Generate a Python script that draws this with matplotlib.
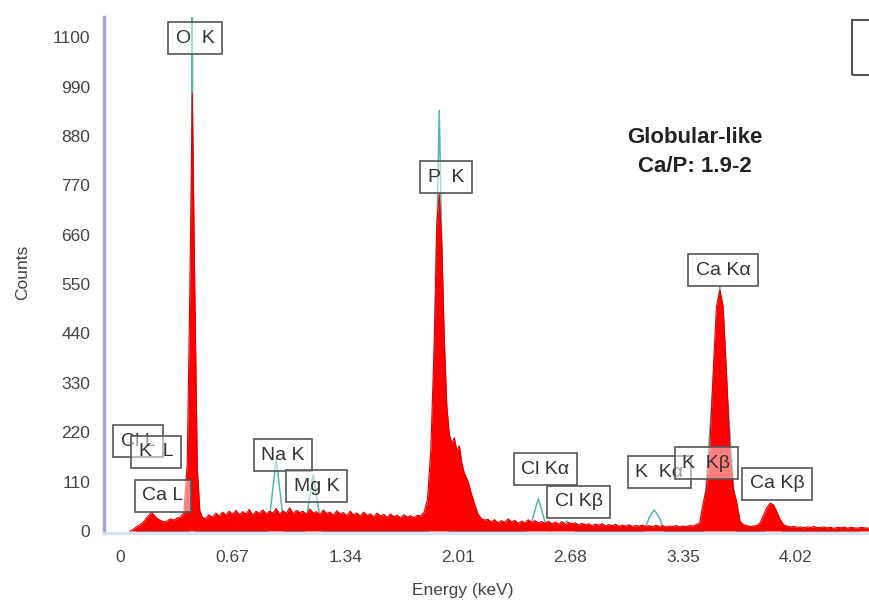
import matplotlib
matplotlib.use("Agg")
import matplotlib.pyplot as plt
from matplotlib.patches import Rectangle

plt.rcParams['font.family'] = ['Liberation Sans', 'DejaVu Sans']

# EDS spectrum (energy in keV, counts)
spec_kev = [0.06, 0.08, 0.10, 0.12, 0.14, 0.16, 0.18, 0.19, 0.20, 0.22, 0.24, 0.26, 0.28, 0.30, 0.32, 0.34, 0.36, 0.38,
            0.40, 0.415, 0.43, 0.445, 0.46, 0.475, 0.49,
            0.51, 0.53, 0.55, 0.57, 0.59, 0.61, 0.63, 0.65, 0.67, 0.69, 0.71, 0.73, 0.75, 0.77, 0.79, 0.81, 0.83,
            0.85, 0.87, 0.89, 0.91, 0.93, 0.95, 0.97, 0.99, 1.01, 1.03, 1.05, 1.07, 1.09, 1.11, 1.13, 1.15, 1.17,
            1.19, 1.21, 1.23, 1.25, 1.27, 1.29, 1.31, 1.33, 1.35, 1.37, 1.39, 1.41, 1.43, 1.45, 1.47, 1.49, 1.51,
            1.53, 1.55, 1.57, 1.59, 1.61, 1.63, 1.65, 1.67, 1.69, 1.71, 1.73, 1.75, 1.77, 1.79, 1.81,
            1.83, 1.85, 1.87, 1.885, 1.90, 1.915, 1.93, 1.945, 1.96, 1.975, 1.99, 2.005, 2.02, 2.035, 2.05, 2.07,
            2.09, 2.11, 2.13, 2.15, 2.17,
            2.19, 2.21, 2.23, 2.25, 2.27, 2.29, 2.31, 2.33, 2.35, 2.37, 2.39, 2.41, 2.43, 2.45, 2.47, 2.49, 2.51,
            2.53, 2.55, 2.57, 2.59, 2.61, 2.63, 2.65, 2.67, 2.69, 2.71, 2.73, 2.75, 2.77, 2.79, 2.81, 2.83, 2.85,
            2.87, 2.89, 2.91, 2.93, 2.95, 2.97, 2.99, 3.01, 3.03, 3.05, 3.07, 3.09, 3.11, 3.13, 3.15, 3.17, 3.19,
            3.21, 3.23, 3.25, 3.27, 3.29, 3.31, 3.33, 3.35, 3.37, 3.39, 3.41, 3.43, 3.45,
            3.47, 3.49, 3.51, 3.53, 3.55, 3.57, 3.59, 3.61, 3.63, 3.65, 3.67, 3.69,
            3.71, 3.73, 3.75, 3.77, 3.79, 3.81, 3.83, 3.85, 3.87, 3.89, 3.91, 3.93, 3.95, 3.97,
            3.99, 4.01, 4.03, 4.05, 4.07, 4.09, 4.11, 4.13, 4.15, 4.17, 4.19, 4.21, 4.23, 4.25, 4.27, 4.29, 4.31,
            4.33, 4.35, 4.37, 4.39, 4.41, 4.43, 4.46]
spec_counts = [0, 4, 10, 14, 20, 30, 38, 42, 36, 28, 24, 20, 22, 27, 24, 29, 31, 40,
               150, 520, 975, 540, 140, 45, 30,
               28, 36, 30, 40, 33, 42, 35, 44, 37, 46, 36, 43, 38, 48, 35, 44, 39,
               47, 38, 44, 40, 50, 37, 45, 39, 52, 38, 46, 41, 44, 37, 49, 40, 43,
               36, 47, 39, 42, 35, 45, 38, 41, 34, 44, 36, 40, 33, 42, 35, 38, 31,
               40, 33, 37, 30, 38, 32, 35, 29, 36, 31, 34, 30, 35, 33, 42,
               70, 180, 420, 680, 753, 640, 430, 280, 215, 195, 208, 178, 190, 150, 128, 112,
               85, 60, 38, 28, 24,
               26, 20, 25, 18, 23, 19, 27, 20, 24, 17, 22, 18, 25, 19, 23, 18, 21,
               17, 22, 16, 20, 15, 21, 14, 19, 16, 18, 13, 17, 14, 16, 12, 15, 13,
               16, 11, 14, 12, 15, 10, 13, 11, 14, 10, 12, 11, 13, 10, 12, 9, 13,
               10, 12, 9, 11, 10, 12, 9, 11, 10, 12, 11, 14, 18,
               60, 95, 180, 350, 500, 537, 500, 350, 180, 95, 65, 22,
               14, 12, 10, 11, 12, 18, 35, 52, 62, 58, 42, 25, 14, 11,
               9, 10, 8, 9, 7, 9, 8, 10, 7, 8, 9, 7, 8, 6, 8, 7, 9,
               6, 8, 7, 6, 8, 7, 6]

# fitted element line profiles (the thin cyan curve)
fit_kev = [0.10, 0.41, 0.425, 0.43, 0.435, 0.45, 0.88, 0.89, 0.93, 0.97, 0.98, 1.10, 1.11, 1.15, 1.19, 1.20,
           1.84, 1.86, 1.90, 1.94, 1.96, 2.42, 2.45, 2.49, 2.53, 2.56, 2.61, 2.66, 2.71,
           3.12, 3.15, 3.18, 3.21, 3.24, 3.47, 3.57, 3.67, 3.84, 3.89, 3.94, 4.40]
fit_counts = [0, 0, 500, 1200, 500, 0, 0, 30, 160, 30, 0, 0, 30, 125, 30, 0,
              0, 150, 937, 150, 0, 0, 20, 72, 20, 0, 10, 22, 0,
              0, 30, 47, 30, 0, 0, 545, 0, 0, 55, 0, 0]

# peak labels: text, energy, counts (box centre)
label_text = ["Cl L", "K  L", "Ca L", "O  K", "Na K", "Mg K", "P  K", "Cl Kα", "Cl Kβ", "K  Kα", "K  Kβ",
              "Ca Kα", "Ca Kβ"]
label_kev = [0.107, 0.214, 0.256, 0.446, 0.97, 1.17, 1.94, 2.53, 2.73, 3.21, 3.49, 3.59, 3.91]
label_counts = [200, 176, 78, 1098, 169, 100, 788, 138, 65, 131, 151, 581, 105]

xticks = [0, 0.67, 1.34, 2.01, 2.68, 3.35, 4.02]
xtick_labels = ["0", "0.67", "1.34", "2.01", "2.68", "3.35", "4.02"]
yticks = [0, 110, 220, 330, 440, 550, 660, 770, 880, 990, 1100]

fig = plt.figure(figsize=(8.69, 6.03), dpi=100)
ax = fig.add_axes([0.1197, 0.1161, 0.8803, 0.8557])

ax.plot(fit_kev, fit_counts, color="#4fb8ad", lw=1.1, zorder=5)
ax.fill_between(spec_kev, 0, spec_counts, color="#ff0000", lw=0, zorder=6)
ax.plot(spec_kev, spec_counts, color="#e00000", lw=0.8, zorder=6)

for t, xk, yc in zip(label_text, label_kev, label_counts):
    ax.text(xk, yc, t, ha="center", va="center", fontsize=14, color="#333333", zorder=7,
            bbox=dict(boxstyle="square,pad=0.38", fc=(1, 1, 1, 0.5), ec="#555555", lw=1.2))

ax.set_xlim(-0.0952, 4.458)
ax.set_ylim(-4.5, 1145)
ax.set_xticks(xticks)
ax.set_xticklabels(xtick_labels)
ax.set_yticks(yticks)
ax.tick_params(axis="x", length=0, pad=12, labelsize=12.5, labelcolor="#444444")
ax.tick_params(axis="y", length=0, pad=10, labelsize=12.5, labelcolor="#444444")

for s in ["top", "right"]:
    ax.spines[s].set_visible(False)
ax.spines["left"].set_color("#a4a4d8")
ax.spines["left"].set_linewidth(2.5)
ax.spines["bottom"].set_color("#d4e2f2")
ax.spines["bottom"].set_linewidth(2)

fig.text(23 / 869, 1 - 272 / 603, "Counts", rotation=90, ha="center", va="center", fontsize=12.5, color="#444444")
fig.text(463 / 869, 1 - 590 / 603, "Energy (keV)", ha="center", va="center", fontsize=12.5, color="#444444")
fig.text(695 / 869, 1 - 152 / 603, "Globular-like\nCa/P: 1.9-2", ha="center", va="center", fontsize=16,
         fontweight="bold", color="#222222", linespacing=1.45)

# legend box cut off at the right edge
fig.patches.append(Rectangle((852 / 869, 1 - 75 / 603), 0.1, 55 / 603, transform=fig.transFigure,
                             fill=False, ec="#555555", lw=1.5))

fig.savefig("out.png", dpi=100)
